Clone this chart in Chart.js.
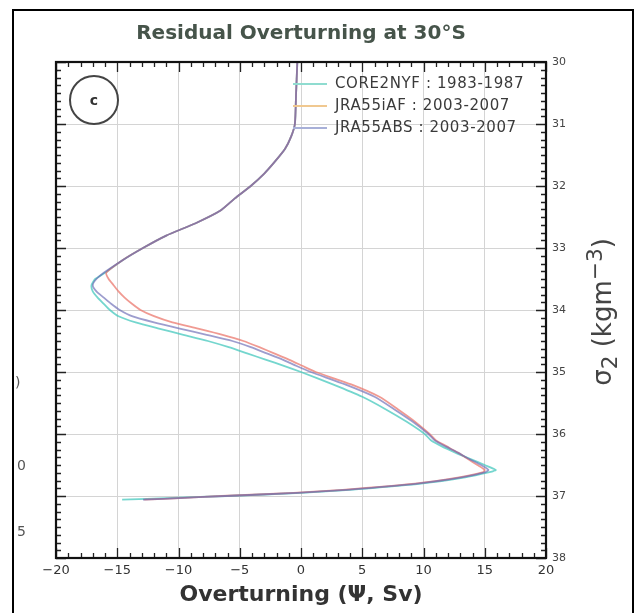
<!DOCTYPE html>
<html>
<head>
<meta charset="utf-8">
<script src="https://cdn.jsdelivr.net/npm/chart.js@4.4.1/dist/chart.umd.min.js"></script>
<style>
body{margin:0;background:#fff;}
#wrap{position:relative;width:637px;height:613px;overflow:hidden;font-family:"DejaVu Sans",sans-serif;}
#chart{position:absolute;left:0;top:0;}
.frame{position:absolute;left:12px;top:9px;width:618px;height:620px;border:2px solid #000;}
.title{position:absolute;left:301px;top:20px;transform:translateX(-50%);white-space:nowrap;font-weight:bold;font-size:20px;color:#46544a;}
.legend{position:absolute;left:293px;top:73px;font-size:15px;letter-spacing:0.6px;color:#3a3a3a;}
.legend div{height:22px;line-height:20px;white-space:nowrap;}
.legend span.sw{display:inline-block;width:34px;height:2px;vertical-align:middle;margin-right:8px;}
.panel{position:absolute;left:69px;top:75px;width:46px;height:46px;border:2px solid #444;border-radius:50%;text-align:center;line-height:46px;font-weight:bold;font-size:14px;color:#333;}
.ytitle{position:absolute;left:602px;top:312px;transform:translate(-50%,-50%) rotate(-90deg);white-space:nowrap;font-size:26px;color:#444;}
.stray{position:absolute;font-size:14px;color:#555;}
</style>
</head>
<body>
<div id="wrap">
  <canvas id="chart" width="637" height="613"></canvas>
  <div class="frame"></div>
  <div class="title">Residual Overturning at 30°S</div>
  <div class="panel">c</div>
  <div class="legend" id="legend"></div>
  <div class="ytitle">σ<sub>2</sub> (kgm<sup>−3</sup>)</div>
  <div class="stray" style="left:15px;top:374px;">)</div>
  <div class="stray" style="left:17px;top:457px;">0</div>
  <div class="stray" style="left:17px;top:523px;">5</div>
</div>
<script>
// density levels (sigma_2) shared by the three runs
const sigmaLevels = [30, 30.5, 31, 31.2, 31.4, 31.6, 31.8, 32, 32.2, 32.4,
  32.6, 32.8, 33, 33.2, 33.4, 33.5, 33.6, 33.7, 33.8, 33.9,
  34, 34.1, 34.2, 34.3, 34.4, 34.5, 34.6, 34.7, 34.8, 34.9,
  35, 35.2, 35.4, 35.6, 35.8, 36, 36.1, 36.2, 36.3, 36.4,
  36.5, 36.58, 36.62, 36.7, 36.8, 36.9, 36.95, 37, 37.03, 37.06];

// overturning (Sv)
const core2nyf = [-0.3, -0.4, -0.5, -0.8, -1.3, -2.1, -3.0, -4.1, -5.4, -6.6,
  -8.6, -11.0, -12.9, -14.6, -16.0, -16.8, -17.1, -17.0, -16.6, -16.1,
  -15.6, -14.9, -13.5, -11.6, -9.6, -7.6, -5.9, -4.4, -2.9, -1.4,
  0.0, 2.6, 5.0, 6.9, 8.6, 10.1, 10.6, 11.5, 12.6, 13.8,
  15.0, 15.9, 15.3, 13.4, 9.8, 4.0, 0.0, -6.0, -10.5, -14.6];
const jra55iaf = [-0.3, -0.4, -0.5, -0.8, -1.3, -2.1, -3.0, -4.1, -5.4, -6.6,
  -8.6, -11.0, -12.9, -14.6, -15.9, -15.7, -15.3, -14.9, -14.4, -13.8,
  -13.1, -12.0, -10.5, -8.4, -6.4, -4.7, -3.4, -2.2, -1.0, 0.1,
  1.2, 4.1, 6.4, 7.9, 9.3, 10.5, 11.0, 11.9, 12.8, 13.6,
  14.4, 15.0, 14.8, 12.9, 9.3, 3.4, -0.6, -6.5, -9.5, -12.8];
const jra55abs = [-0.3, -0.4, -0.5, -0.8, -1.3, -2.1, -3.0, -4.1, -5.4, -6.6,
  -8.6, -11.0, -12.9, -14.6, -16.1, -16.7, -17.0, -16.7, -16.1, -15.5,
  -14.8, -13.8, -12.0, -9.9, -7.7, -5.6, -4.1, -2.8, -1.5, -0.4,
  0.8, 3.6, 6.0, 7.6, 9.1, 10.4, 10.9, 11.8, 12.8, 13.7,
  14.7, 15.3, 15.0, 13.1, 9.5, 3.7, -0.3, -6.2, -9.6, -12.9];

const seriesLabels = ['CORE2NYF : 1983-1987', 'JRA55iAF : 2003-2007', 'JRA55ABS : 2003-2007'];
const seriesColors = ['rgba(70,200,190,0.75)', 'rgba(235,120,110,0.75)', 'rgba(105,105,180,0.65)'];
const legendColors = ['#8fdcd0', '#f0c890', '#a8b0d8'];

const xTickValues = [-20, -15, -10, -5, 0, 5, 10, 15, 20];
const yTickValues = [30, 31, 32, 33, 34, 35, 36, 37, 38];
const xMinorStep = 1;
const yMinorStep = 0.125;

let toPoints = function(vals){
  return vals.map((v, i) => ({x: v, y: sigmaLevels[i]}));
}

// blue drawn last so overlapping parts go greyish like the original
let datasets = [core2nyf, jra55iaf, jra55abs].map((vals, i) => ({
  label: seriesLabels[i],
  data: toPoints(vals),
  showLine: true,
  borderColor: seriesColors[i],
  borderWidth: 1.8,
  pointRadius: 0,
  tension: 0.2,
  order: 3 - i
}));

// html legend, top right inside the plot
let legendHtml = '';
seriesLabels.forEach((l, i) => {
  legendHtml += `<div><span class="sw" style="background:${legendColors[i]}"></span>${l}</div>`;
});
document.getElementById('legend').innerHTML = legendHtml;

// inward ticks on all four sides + black box
const boxTicks = {
  id: 'boxTicks',
  afterDraw(chart){
    const {ctx, chartArea: a, scales: {x, y}} = chart;
    ctx.save();
    ctx.strokeStyle = '#222';
    ctx.lineWidth = 1.3;
    ctx.beginPath();
    let nx = Math.round((xTickValues[xTickValues.length-1] - xTickValues[0]) / xMinorStep);
    for(let i = 0; i <= nx; i++){
      let v = xTickValues[0] + i * xMinorStep;
      let px = Math.round(x.getPixelForValue(v)) + 0.5;
      let len = xTickValues.includes(v) ? 10 : 5;
      ctx.moveTo(px, a.bottom); ctx.lineTo(px, a.bottom - len);
      ctx.moveTo(px, a.top); ctx.lineTo(px, a.top + len);
    }
    let ny = Math.round((yTickValues[yTickValues.length-1] - yTickValues[0]) / yMinorStep);
    for(let i = 0; i <= ny; i++){
      let v = yTickValues[0] + i * yMinorStep;
      let py = Math.round(y.getPixelForValue(v)) + 0.5;
      let len = Math.abs(v - Math.round(v)) < 1e-6 ? 10 : 5;
      ctx.moveTo(a.left, py); ctx.lineTo(a.left + len, py);
      ctx.moveTo(a.right, py); ctx.lineTo(a.right - len, py);
    }
    ctx.stroke();
    ctx.lineWidth = 2.2;
    ctx.strokeStyle = '#111';
    ctx.strokeRect(a.left, a.top, a.right - a.left, a.bottom - a.top);
    ctx.restore();
  }
};

const minus = v => v < 0 ? '\u2212' + Math.abs(v) : '' + v;

new Chart(document.getElementById('chart'), {
  type: 'scatter',
  data: {datasets: datasets},
  options: {
    responsive: false,
    animation: false,
    layout: {padding: {left: 56, top: 62, right: 0, bottom: 0}},
    plugins: {legend: {display: false}, tooltip: {enabled: false}},
    scales: {
      x: {
        type: 'linear',
        position: 'bottom',
        min: xTickValues[0],
        max: xTickValues[xTickValues.length-1],
        afterBuildTicks: s => { s.ticks = xTickValues.map(v => ({value: v})); },
        afterFit: s => { s.height = 55; },
        grid: {color: '#d4d4d4', lineWidth: 1, drawTicks: false},
        border: {display: false},
        ticks: {
          callback: v => minus(v),
          font: {family: 'DejaVu Sans', size: 13},
          color: '#333',
          padding: 5,
          maxRotation: 0
        },
        title: {
          display: true,
          text: 'Overturning (Ψ, Sv)',
          font: {family: 'DejaVu Sans', size: 22, weight: 'bold'},
          color: '#333',
          padding: {top: 0, bottom: 5}
        }
      },
      y: {
        type: 'linear',
        position: 'right',
        reverse: true,
        min: yTickValues[0],
        max: yTickValues[yTickValues.length-1],
        afterBuildTicks: s => { s.ticks = yTickValues.map(v => ({value: v})); },
        afterFit: s => { s.width = 91; },
        grid: {color: '#d4d4d4', lineWidth: 1, drawTicks: false},
        border: {display: false},
        ticks: {
          font: {family: 'DejaVu Sans', size: 11},
          color: '#444',
          padding: 6
        }
      }
    }
  },
  plugins: [boxTicks]
});
</script>
</body>
</html>
